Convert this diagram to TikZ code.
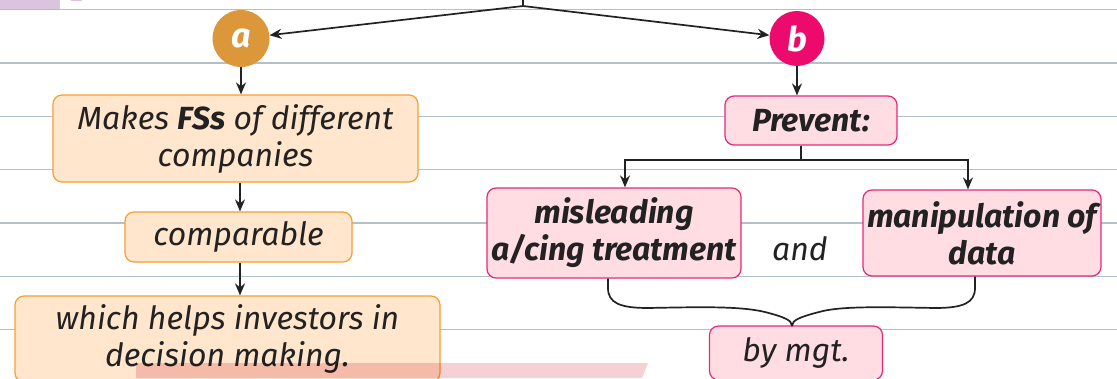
\documentclass[tikz,border=0pt]{standalone}
\usepackage{fontspec}
\setmainfont{Fira Sans}
\usetikzlibrary{arrows.meta}
\definecolor{rulec}{HTML}{B2C0C8}
\definecolor{ink}{HTML}{222222}
\definecolor{peach}{HTML}{FFE6CC}
\definecolor{orline}{HTML}{F7A030}
\definecolor{pinkfill}{HTML}{FFDDE3}
\definecolor{pinkline}{HTML}{E8287A}
\definecolor{circa}{HTML}{DB973A}
\definecolor{circb}{HTML}{EC0A6C}
\definecolor{bandc}{HTML}{F5D0D5}
\definecolor{purp}{HTML}{DCC4E0}
\tikzset{
  orbox/.style={draw=orline, fill=peach, rounded corners=9pt, line width=1.2pt, align=center, inner sep=0pt, text=ink},
  pkbox/.style={draw=pinkline, fill=pinkfill, rounded corners=9pt, line width=1.2pt, align=center, inner sep=0pt, text=ink},
  bfont/.style={font=\bfseries\itshape\fontsize{32}{37}\selectfont},
  circ/.style={circle, inner sep=0pt, minimum size=#1, text=white, font=\bfseries\itshape\fontsize{34}{34}\selectfont},
  arr/.style={-{Stealth[length=12pt,width=10pt]}, line width=1.7pt, draw=ink},
  conn/.style={line width=1.7pt, draw=ink},
  ruled/.style={draw=rulec, line width=1.5pt}
}
\begin{document}
\begin{tikzpicture}[x=1pt,y=-1pt, font=\itshape\fontsize{32}{37}\selectfont]
\useasboundingbox (0,0) rectangle (1117,378);
\fill[white] (0,0) rectangle (1117,378);
% ruled lines
\foreach \yy in {9.7,63,116.3,169.7,223,276.3,329.7}
  \draw[ruled] (0,\yy) -- (1117,\yy);
\fill[purp] (0,0) rectangle (60,9);
\fill[purp] (71,0) rectangle (82,1.3);
% circles
\node[circ=57pt, fill=circa] (a) at (241,38.5) {a};
\node[circ=55pt, fill=circb] (b) at (797,38.5) {b};
% left column
\node[orbox, minimum width=365pt, minimum height=87pt] (fs) at (235.5,138.5) {Makes \textbf{FSs} of different\\companies};
\node[orbox, minimum width=227pt, minimum height=50pt] (cmp) at (238.5,237) {comparable};
\node[orbox, minimum width=425pt, minimum height=86pt] (inv) at (227.5,339) {which helps investors in\\decision making.};
% right column
\node[pkbox, bfont, minimum width=172pt, minimum height=49pt] (pv) at (811,120.5) {Prevent:};
\node[pkbox, bfont, minimum width=254pt, minimum height=90pt] (mis) at (614,233) {misleading\\a/cing treatment};
\node[pkbox, bfont, minimum width=238pt, minimum height=86pt] (man) at (982,233) {manipulation of\\data};
\node[text=ink] (and) at (800,249) {and};
\node[pkbox, minimum width=173pt, minimum height=54pt] (mgt) at (796,353) {by mgt.};
% top connectors
\coordinate (top) at (523,0);
\coordinate (fork) at (523,6);
\draw[conn] (top) -- (fork);
\draw[arr] (fork) -- (a);
\draw[arr] (fork) -- (b);
\draw[arr] (a) -- (a |- fs.north);
\draw[arr] (b) -- (b |- pv.north);
\coordinate (lx) at (240,0);
\draw[arr] (lx |- fs.south) -- (lx |- cmp.north);
\draw[arr] (lx |- cmp.south) -- (lx |- inv.north);
% split from Prevent
\coordinate (sp) at (801,160);
\coordinate (mx) at (625,0);
\coordinate (nx) at (968,0);
\draw[conn] (sp |- pv.south) -- (sp);
\draw[arr] (sp) -| (mx |- mis.north);
\draw[arr] (sp) -| (nx |- man.north);
% brace
\coordinate (bx) at (608,0);
\coordinate (cx) at (975,0);
\coordinate (tip) at (792,326);
\draw[conn] (bx |- mis.south) -- (608,288) .. controls (608,303) and (620,308) .. (648,308)
  .. controls (700,307) and (740,306) .. (765,312) .. controls (784,317) and (792,320) .. (tip);
\draw[conn] (cx |- man.south) -- (975,288) .. controls (975,303) and (963,308) .. (935,308)
  .. controls (880,307) and (840,306) .. (819,312) .. controls (800,317) and (792,320) .. (tip);
% highlight band
\begin{scope}[blend mode=multiply]
\fill[bandc] (136,363) -- (648,363) -- (642,378) -- (136,378) -- cycle;
\end{scope}
\end{tikzpicture}
\end{document}
